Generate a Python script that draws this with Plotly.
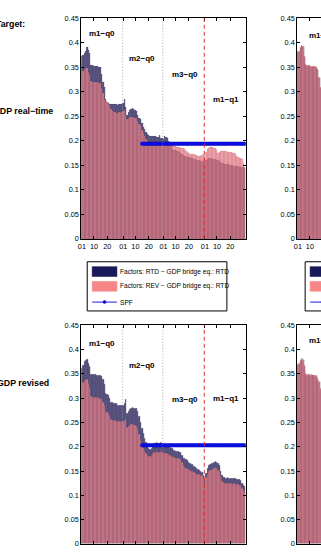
import plotly.graph_objects as go

# ---------------- data ----------------
month_lengths = [31, 30, 31, 31]
month_names = ["m1−q0", "m2−q0", "m3−q0", "m1−q1"]
tick_days = [1, 10, 20]
tick_labels = ["01", "10", "20"]
y_ticks = [0, 0.05, 0.1, 0.15, 0.2, 0.25, 0.3, 0.35, 0.4, 0.45]
y_tick_labels = ["0", "0.05", "0.1", "0.15", "0.2", "0.25", "0.3", "0.35", "0.4", "0.45"]

# Target: GDP real-time (top-left panel)
top_rtd = [
    0.372, 0.375, 0.378, 0.383, 0.390, 0.384, 0.378, 0.355, 0.354, 0.353,
    0.353, 0.352, 0.352, 0.351, 0.350, 0.335, 0.320, 0.310, 0.285, 0.278,
    0.276, 0.275, 0.275, 0.274, 0.274, 0.274, 0.274, 0.273, 0.274, 0.274,
    0.275, 0.276, 0.285, 0.268, 0.252, 0.258, 0.262, 0.265, 0.266, 0.265,
    0.263, 0.260, 0.252, 0.246, 0.244, 0.236, 0.228, 0.224, 0.218, 0.213,
    0.211, 0.210, 0.209, 0.210, 0.209, 0.210, 0.207, 0.208, 0.212, 0.206,
    0.206, 0.204, 0.210, 0.208, 0.205, 0.200, 0.195, 0.188, 0.183, 0.181,
    0.180, 0.178, 0.178, 0.176, 0.175, 0.172, 0.170, 0.168, 0.168, 0.167,
    0.166, 0.166, 0.165, 0.164, 0.163, 0.162, 0.161, 0.160, 0.160, 0.159,
    0.158, 0.157, 0.156, 0.160, 0.162, 0.164, 0.165, 0.164, 0.163, 0.162,
    0.162, 0.161, 0.160, 0.158, 0.156, 0.155, 0.154, 0.153, 0.153, 0.152,
    0.152, 0.151, 0.150, 0.150, 0.149, 0.148, 0.148, 0.148, 0.147, 0.147,
    0.146, 0.145, 0.144,
]
top_rev = [
    0.338, 0.342, 0.345, 0.347, 0.348, 0.340, 0.334, 0.322, 0.320, 0.320,
    0.320, 0.319, 0.319, 0.318, 0.318, 0.308, 0.296, 0.284, 0.280, 0.278,
    0.276, 0.270, 0.264, 0.260, 0.258, 0.258, 0.257, 0.257, 0.258, 0.258,
    0.259, 0.260, 0.262, 0.252, 0.244, 0.246, 0.248, 0.249, 0.248, 0.248,
    0.247, 0.245, 0.240, 0.234, 0.232, 0.222, 0.215, 0.210, 0.204, 0.200,
    0.198, 0.198, 0.197, 0.198, 0.197, 0.198, 0.196, 0.197, 0.198, 0.196,
    0.195, 0.194, 0.196, 0.195, 0.194, 0.193, 0.192, 0.190, 0.190, 0.189,
    0.188, 0.187, 0.186, 0.186, 0.185, 0.184, 0.184, 0.182, 0.178, 0.176,
    0.174, 0.173, 0.173, 0.172, 0.172, 0.171, 0.170, 0.169, 0.168, 0.168,
    0.170, 0.172, 0.168, 0.176, 0.182, 0.184, 0.186, 0.186, 0.186, 0.185,
    0.184, 0.180, 0.175, 0.176, 0.178, 0.178, 0.179, 0.178, 0.178, 0.177,
    0.177, 0.176, 0.176, 0.175, 0.175, 0.172, 0.168, 0.166, 0.165, 0.164,
    0.162, 0.155, 0.145,
]
# Target: GDP revised (bottom-left panel)
bot_rtd = [
    0.362, 0.368, 0.376, 0.378, 0.379, 0.372, 0.365, 0.350, 0.349, 0.349,
    0.349, 0.348, 0.348, 0.348, 0.347, 0.345, 0.338, 0.328, 0.310, 0.308,
    0.306, 0.300, 0.292, 0.291, 0.290, 0.290, 0.289, 0.286, 0.285, 0.285,
    0.285, 0.286, 0.290, 0.298, 0.268, 0.272, 0.276, 0.280, 0.281, 0.280,
    0.279, 0.278, 0.272, 0.262, 0.250, 0.238, 0.228, 0.218, 0.208, 0.200,
    0.196, 0.195, 0.197, 0.203, 0.206, 0.207, 0.208, 0.206, 0.207, 0.208,
    0.207, 0.206, 0.205, 0.205, 0.204, 0.200, 0.198, 0.197, 0.196, 0.193,
    0.191, 0.190, 0.190, 0.189, 0.188, 0.182, 0.177, 0.175, 0.174, 0.172,
    0.168, 0.165, 0.164, 0.163, 0.160, 0.157, 0.155, 0.154, 0.152, 0.150,
    0.148, 0.140, 0.130, 0.145, 0.155, 0.162, 0.164, 0.165, 0.166, 0.168,
    0.170, 0.168, 0.166, 0.162, 0.150, 0.140, 0.137, 0.136, 0.135, 0.136,
    0.135, 0.135, 0.134, 0.134, 0.135, 0.134, 0.133, 0.133, 0.132, 0.130,
    0.125, 0.120, 0.118,
]
bot_rev = [
    0.328, 0.332, 0.337, 0.339, 0.339, 0.330, 0.322, 0.303, 0.302, 0.302,
    0.302, 0.301, 0.301, 0.300, 0.300, 0.298, 0.292, 0.285, 0.272, 0.270,
    0.268, 0.262, 0.256, 0.255, 0.254, 0.254, 0.253, 0.252, 0.252, 0.252,
    0.252, 0.253, 0.255, 0.256, 0.240, 0.242, 0.244, 0.246, 0.246, 0.245,
    0.244, 0.242, 0.236, 0.226, 0.214, 0.204, 0.196, 0.190, 0.186, 0.182,
    0.181, 0.180, 0.182, 0.186, 0.188, 0.189, 0.190, 0.189, 0.189, 0.190,
    0.189, 0.188, 0.187, 0.187, 0.186, 0.184, 0.182, 0.181, 0.180, 0.178,
    0.177, 0.176, 0.176, 0.175, 0.174, 0.168, 0.162, 0.158, 0.156, 0.155,
    0.154, 0.152, 0.150, 0.149, 0.147, 0.145, 0.144, 0.143, 0.142, 0.141,
    0.140, 0.132, 0.124, 0.136, 0.144, 0.150, 0.152, 0.153, 0.154, 0.156,
    0.157, 0.155, 0.152, 0.148, 0.138, 0.128, 0.126, 0.125, 0.125, 0.125,
    0.124, 0.124, 0.124, 0.123, 0.124, 0.123, 0.122, 0.122, 0.121, 0.120,
    0.115, 0.110, 0.108,
]
# SPF benchmark
spf_start_day = 45
spf_top_value = 0.194
spf_bot_value = 0.203

# right-hand panels (only the first days are visible)
rt_rev = [0.382, 0.383, 0.390, 0.394, 0.392, 0.372, 0.356, 0.355, 0.354, 0.354,
          0.353, 0.353, 0.352, 0.352, 0.350, 0.345, 0.330, 0.310]
rt_rtd = [0.380, 0.381, 0.388, 0.392, 0.390, 0.370, 0.354, 0.353, 0.352, 0.352,
          0.351, 0.351, 0.350, 0.350, 0.348, 0.343, 0.328, 0.308]
rb_rev = [0.370, 0.372, 0.378, 0.382, 0.380, 0.368, 0.352, 0.350, 0.350, 0.349,
          0.349, 0.348, 0.348, 0.347, 0.346, 0.340, 0.335, 0.320]
rb_rtd = [0.368, 0.370, 0.376, 0.380, 0.378, 0.366, 0.350, 0.348, 0.348, 0.347,
          0.347, 0.346, 0.346, 0.345, 0.344, 0.338, 0.333, 0.318]

legend_labels = ["Factors: RTD − GDP bridge eq.: RTD",
                 "Factors: REV − GDP bridge eq.: RTD",
                 "SPF"]
row_labels = ["Target:", "GDP real−time", "GDP revised"]

# ---------------- layout helpers ----------------
W, H = 321, 555
FONT = "Liberation Sans, Arial, sans-serif"
NAVY = "rgba(20,20,85,0.72)"
SALMON = "rgba(250,140,145,0.75)"
EDGE = dict(width=0.3, color="rgba(60,20,50,0.35)")


def px(x):
    return x / W


def py(y):
    return 1 - y / H


n_days = sum(month_lengths)
days = list(range(n_days))
month_starts = [sum(month_lengths[:i]) for i in range(len(month_lengths))]
tickvals, ticktext = [], []
for ms in month_starts:
    for d, lab in zip(tick_days, tick_labels):
        tickvals.append(ms + d - 1)
        ticktext.append(lab)

fig = go.Figure()

panels = [
    ("x", "y", top_rtd, top_rev),
    ("x2", "y2", bot_rtd, bot_rev),
]
for xa, ya, rtd, rev in panels:
    fig.add_trace(go.Bar(x=days, y=rtd, xaxis=xa, yaxis=ya, width=1,
                         marker=dict(color=NAVY, line=EDGE), showlegend=False))
    fig.add_trace(go.Bar(x=days, y=rev, xaxis=xa, yaxis=ya, width=1,
                         marker=dict(color=SALMON, line=EDGE), showlegend=False))

right_panels = [("x3", "y3", rt_rtd, rt_rev), ("x4", "y4", rb_rtd, rb_rev)]
for xa, ya, rtd, rev in right_panels:
    dd = list(range(len(rtd)))
    fig.add_trace(go.Bar(x=dd, y=rtd, xaxis=xa, yaxis=ya, width=1,
                         marker=dict(color=NAVY, line=EDGE), showlegend=False))
    fig.add_trace(go.Bar(x=dd, y=rev, xaxis=xa, yaxis=ya, width=1,
                         marker=dict(color=SALMON, line=EDGE), showlegend=False))

# SPF lines
for xa, ya, val in [("x", "y", spf_top_value), ("x2", "y2", spf_bot_value)]:
    sd = list(range(spf_start_day, n_days))
    fig.add_trace(go.Scatter(x=sd, y=[val] * len(sd), xaxis=xa, yaxis=ya,
                             mode="lines+markers",
                             line=dict(color="rgb(0,0,255)", width=1),
                             marker=dict(color="rgb(20,20,255)", size=3.6, symbol="circle",
                                         line=dict(width=0.4, color="rgb(0,0,170)")),
                             showlegend=False))

axis_common = dict(showline=True, linecolor="black", linewidth=1,
                   ticks="inside", ticklen=3, tickwidth=0.8, tickcolor="black",
                   showgrid=False, zeroline=False, tickangle=0,
                   tickfont=dict(family=FONT, size=7.3, color="black"))

left_x = [px(79), px(245)]
right_x = [px(297), 1.0]
top_y = [py(238.7), py(14.5)]
bot_y = [py(548.7), py(326.7)]
ppd = (245 - 79) / n_days
right_range = [-0.5, -0.5 + (321 - 297) / ppd]

fig.update_layout(
    xaxis=dict(domain=left_x, anchor="y", range=[-0.5, n_days - 0.5],
               tickvals=tickvals, ticktext=ticktext, mirror="ticks", **axis_common),
    yaxis=dict(domain=top_y, anchor="x", range=[0, 0.45],
               tickvals=y_ticks, ticktext=y_tick_labels, mirror="ticks", **axis_common),
    xaxis2=dict(domain=left_x, anchor="y2", range=[-0.5, n_days - 0.5],
                tickvals=tickvals, ticktext=["" for _ in ticktext], mirror="ticks", **axis_common),
    yaxis2=dict(domain=bot_y, anchor="x2", range=[0, 0.45],
                tickvals=y_ticks, ticktext=y_tick_labels, mirror="ticks", **axis_common),
    xaxis3=dict(domain=right_x, anchor="y3", range=right_range,
                tickvals=tickvals, ticktext=ticktext, mirror="ticks", **axis_common),
    yaxis3=dict(domain=top_y, anchor="x3", range=[0, 0.45],
                tickvals=y_ticks, ticktext=y_tick_labels, mirror=False, **axis_common),
    xaxis4=dict(domain=right_x, anchor="y4", range=right_range,
                tickvals=tickvals, ticktext=["" for _ in ticktext], mirror="ticks", **axis_common),
    yaxis4=dict(domain=bot_y, anchor="x4", range=[0, 0.45],
                tickvals=y_ticks, ticktext=y_tick_labels, mirror=False, **axis_common),
    barmode="overlay", bargap=0,
    width=W, height=H, margin=dict(l=0, r=0, t=0, b=0),
    paper_bgcolor="white", plot_bgcolor="white",
    showlegend=False,
    font=dict(family=FONT, size=8, color="black"),
)

shapes = []
annotations = []

# month separators
for i, ms in enumerate(month_starts[1:], start=1):
    for xa, ya in [("x", "y"), ("x2", "y2")]:
        if i == 3:
            line = dict(color="rgb(225,40,40)", width=1, dash="4px,3px")
        else:
            line = dict(color="rgba(150,150,150,0.8)", width=1, dash="1px,2px")
        shapes.append(dict(type="line", xref=xa, yref=ya, x0=ms - 0.5, x1=ms - 0.5,
                           y0=0, y1=0.45, line=line, layer="above"))

# month labels (centre day, height) per panel
label_pos_top = [(14.8, 0.418), (45.0, 0.368), (77.4, 0.335), (108.0, 0.285)]
label_pos_bot = [(15.0, 0.413), (45.0, 0.368), (77.0, 0.298), (108.0, 0.300)]
for (xa, ya, pos) in [("x", "y", label_pos_top), ("x2", "y2", label_pos_bot)]:
    for name, (xd, yv) in zip(month_names, pos):
        annotations.append(dict(x=xd, y=yv, xref=xa, yref=ya, text="<b>" + name + "</b>",
                                showarrow=False, font=dict(family=FONT, size=8, color="black")))
# right panels first month label
for xa, ya, yv in [("x3", "y3", 0.414), ("x4", "y4", 0.418)]:
    annotations.append(dict(x=7.0, y=yv, xref=xa, yref=ya, text="<b>" + month_names[0] + "</b>",
                            showarrow=False, xanchor="left", font=dict(family=FONT, size=8, color="black")))

# row labels
for text, xr, yc in [(row_labels[0], 24, 20), (row_labels[1], 52, 109), (row_labels[2], 48, 385)]:
    annotations.append(dict(x=px(xr), y=py(yc), xref="paper", yref="paper", text="<b>" + text + "</b>",
                            showarrow=False, xanchor="right", yanchor="middle",
                            font=dict(family=FONT, size=8.8, color="black")))

# legends (left complete, right partially visible)
for lx0, lx1, show_text in [(85, 226, True), (305, 360, False)]:
    shapes.append(dict(type="rect", xref="paper", yref="paper", x0=px(lx0), x1=px(lx1),
                       y0=py(312), y1=py(262), line=dict(color="black", width=1),
                       fillcolor="white", layer="above"))
    p0, p1 = lx0 + 5, lx0 + 30
    shapes.append(dict(type="rect", xref="paper", yref="paper", x0=px(p0), x1=px(p1),
                       y0=py(277), y1=py(267), line=dict(color="rgb(20,20,70)", width=0.5),
                       fillcolor="rgb(25,25,90)", layer="above"))
    shapes.append(dict(type="rect", xref="paper", yref="paper", x0=px(p0), x1=px(p1),
                       y0=py(292), y1=py(282), line=dict(color="rgb(245,130,130)", width=0.5),
                       fillcolor="rgb(247,135,135)", layer="above"))
    shapes.append(dict(type="line", xref="paper", yref="paper", x0=px(p0), x1=px(p1),
                       y0=py(303), y1=py(303), line=dict(color="rgb(30,30,230)", width=1),
                       layer="above"))
    shapes.append(dict(type="circle", xref="paper", yref="paper", x0=px((p0 + p1) / 2 - 1.5),
                       x1=px((p0 + p1) / 2 + 1.5), y0=py(304.5), y1=py(301.5),
                       line=dict(color="rgb(0,0,200)", width=0.5), fillcolor="rgb(0,0,200)",
                       layer="above"))
    if show_text:
        for lab, yc in zip(legend_labels, [272, 287, 303]):
            annotations.append(dict(x=px(p1 + 1), y=py(yc), xref="paper", yref="paper", text=lab,
                                    showarrow=False, xanchor="left", yanchor="middle",
                                    font=dict(family=FONT, size=6.6, color="black")))

fig.update_layout(shapes=shapes, annotations=annotations)

fig.write_html("out.html")
